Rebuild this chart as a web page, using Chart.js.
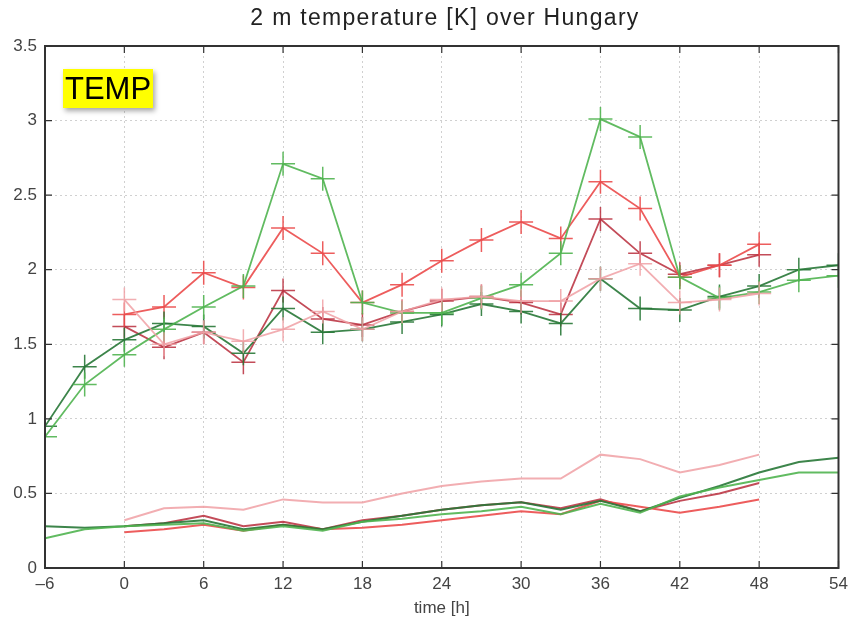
<!DOCTYPE html>
<html lang="en">
<head>
<meta charset="UTF-8">
<title>2 m temperature [K] over Hungary</title>
<script src="https://cdn.jsdelivr.net/npm/chart.js"></script>
<style>
  body { margin: 0; background: #fff; }
  #wrap { position: relative; width: 852px; height: 623px; }
  #title {
    position: absolute; left: 0; top: 4px; width: 890px; text-align: center;
    font: 23px "Liberation Sans", Arial, sans-serif; letter-spacing: 1.3px; color: #222;
  }
  #tag {
    position: absolute; left: 63px; top: 69px; height: 39px; padding: 0 2px;
    background: #ffff00; color: #000; font: 31px "Liberation Sans", Arial, sans-serif;
    line-height: 39px; box-shadow: 2px 3px 5px rgba(0,0,0,0.35);
  }
</style>
</head>
<body>
<div id="wrap">
  <canvas id="chart" width="852" height="623"></canvas>
  <div id="title">2 m temperature [K] over Hungary</div>
  <div id="tag">TEMP</div>
</div>
<script>
// forecast lead time [h]
const times = [-6, -3, 0, 3, 6, 9, 12, 15, 18, 21, 24, 27, 30, 33, 36, 39, 42, 45, 48, 51, 54];

// upper curves (with + markers)
const greenLightUpper = [0.88, 1.23, 1.43, 1.60, 1.75, 1.89, 2.71, 2.61, 1.78, 1.71, 1.71, 1.81, 1.90, 2.11, 3.01, 2.89, 1.95, 1.81, 1.85, 1.93, 1.96];
const greenDarkUpper  = [0.95, 1.35, 1.53, 1.64, 1.62, 1.44, 1.74, 1.58, 1.60, 1.65, 1.70, 1.77, 1.72, 1.64, 1.94, 1.74, 1.73, 1.82, 1.89, 2.00, 2.03];
const redUpper        = [null, null, 1.70, 1.75, 1.98, 1.88, 2.28, 2.11, 1.78, 1.90, 2.06, 2.20, 2.32, 2.21, 2.59, 2.41, 1.95, 2.03, 2.17, null, null];
const redDarkUpper    = [null, null, 1.62, 1.48, 1.58, 1.38, 1.86, 1.67, 1.63, 1.72, 1.79, 1.82, 1.78, 1.70, 2.34, 2.11, 1.97, 2.03, 2.10, null, null];
const pinkUpper       = [null, null, 1.80, 1.50, 1.58, 1.52, 1.60, 1.72, 1.60, 1.72, 1.80, 1.82, 1.79, 1.79, 1.94, 2.04, 1.78, 1.80, 1.84, null, null];

// lower curves (no markers)
const pinkLower       = [null, null, 0.32, 0.40, 0.41, 0.39, 0.46, 0.44, 0.44, 0.50, 0.55, 0.58, 0.60, 0.60, 0.76, 0.73, 0.64, 0.69, 0.76, null, null];
const greenDarkLower  = [0.28, 0.27, 0.28, 0.30, 0.32, 0.26, 0.29, 0.26, 0.31, 0.35, 0.39, 0.42, 0.44, 0.39, 0.45, 0.38, 0.47, 0.55, 0.64, 0.71, 0.74];
const greenLightLower = [0.20, 0.26, 0.28, 0.29, 0.30, 0.25, 0.28, 0.25, 0.31, 0.33, 0.36, 0.38, 0.41, 0.36, 0.43, 0.37, 0.48, 0.54, 0.59, 0.64, 0.64];
const redDarkLower    = [null, null, 0.28, 0.30, 0.35, 0.28, 0.31, 0.26, 0.32, 0.35, 0.39, 0.42, 0.44, 0.40, 0.46, 0.38, 0.45, 0.50, 0.57, null, null];
const redLower        = [null, null, 0.24, 0.26, 0.29, 0.25, 0.29, 0.26, 0.27, 0.29, 0.32, 0.35, 0.38, 0.36, 0.45, 0.41, 0.37, 0.41, 0.46, null, null];

const xTicks = [-6, 0, 6, 12, 18, 24, 30, 36, 42, 48, 54];

const cGreenLight = 'rgba(80, 180, 80, 0.9)';
const cGreenDark  = 'rgba(40, 120, 55, 0.9)';
const cRed        = 'rgba(235, 75, 75, 0.9)';
const cRedDark    = 'rgba(185, 45, 60, 0.85)';
const cPink       = 'rgba(240, 160, 165, 0.85)';

function pts(values) {
  return times.map((t, i) => ({ x: t, y: values[i] }));
}

function upper(values, color) {
  return {
    data: pts(values), borderColor: color, backgroundColor: color,
    borderWidth: 1.8, pointStyle: 'cross', pointRadius: 12, pointBorderWidth: 1.5,
    pointHoverRadius: 12, tension: 0, spanGaps: false
  };
}

function lower(values, color) {
  return {
    data: pts(values), borderColor: color, backgroundColor: color,
    borderWidth: 2, pointRadius: 0, tension: 0, spanGaps: false
  };
}

// gnuplot-like box round the plot with small inward ticks
const frame = {
  id: 'frame',
  afterDraw(chart) {
    const a = chart.chartArea, ctx = chart.ctx;
    const xs = chart.scales.x, ys = chart.scales.y;
    ctx.save();
    ctx.strokeStyle = '#333';
    ctx.lineWidth = 2;
    ctx.strokeRect(a.left, a.top, a.right - a.left, a.bottom - a.top);
    ctx.lineWidth = 1.2;
    ctx.beginPath();
    xs.ticks.forEach(t => {
      const px = xs.getPixelForValue(t.value);
      ctx.moveTo(px, a.bottom); ctx.lineTo(px, a.bottom - 7);
      ctx.moveTo(px, a.top); ctx.lineTo(px, a.top + 7);
    });
    ys.ticks.forEach(t => {
      const py = ys.getPixelForValue(t.value);
      ctx.moveTo(a.left, py); ctx.lineTo(a.left + 7, py);
      ctx.moveTo(a.right, py); ctx.lineTo(a.right - 7, py);
    });
    ctx.stroke();
    ctx.restore();
  }
};

new Chart(document.getElementById('chart'), {
  type: 'line',
  data: {
    datasets: [
      lower(pinkLower, cPink),
      lower(greenLightLower, cGreenLight),
      lower(greenDarkLower, cGreenDark),
      lower(redLower, cRed),
      lower(redDarkLower, cRedDark),
      upper(pinkUpper, cPink),
      upper(greenLightUpper, cGreenLight),
      upper(greenDarkUpper, cGreenDark),
      upper(redUpper, cRed),
      upper(redDarkUpper, cRedDark)
    ]
  },
  options: {
    responsive: false,
    animation: false,
    layout: { padding: { top: 46, right: 6, left: 0, bottom: 0 } },
    plugins: {
      legend: { display: false },
      tooltip: { enabled: false },
      title: { display: false }
    },
    scales: {
      x: {
        type: 'linear', min: -6, max: 54,
        afterBuildTicks: s => { s.ticks = xTicks.map(v => ({ value: v })); },
        afterFit: s => { s.height = 55; s.paddingRight = 0; s.paddingLeft = 0; },
        ticks: {
          color: '#444', font: { family: 'Liberation Sans', size: 17 }, padding: 6,
          callback: v => String(v).replace('-', '\u2013')
        },
        grid: { color: '#d0d0d0', lineWidth: 1, tickLength: 0 },
        border: { display: false, dash: [2, 3] },
        title: {
          display: true, text: 'time [h]', color: '#444',
          font: { family: 'Liberation Sans', size: 17 }, padding: { top: 2 }
        }
      },
      y: {
        min: 0, max: 3.5,
        afterFit: s => { s.width = 45; },
        ticks: {
          stepSize: 0.5, color: '#444', font: { family: 'Liberation Sans', size: 17 }, padding: 8,
          callback: v => String(v)
        },
        grid: { color: '#d0d0d0', lineWidth: 1, tickLength: 0 },
        border: { display: false, dash: [2, 3] }
      }
    }
  },
  plugins: [frame]
});
</script>
</body>
</html>
